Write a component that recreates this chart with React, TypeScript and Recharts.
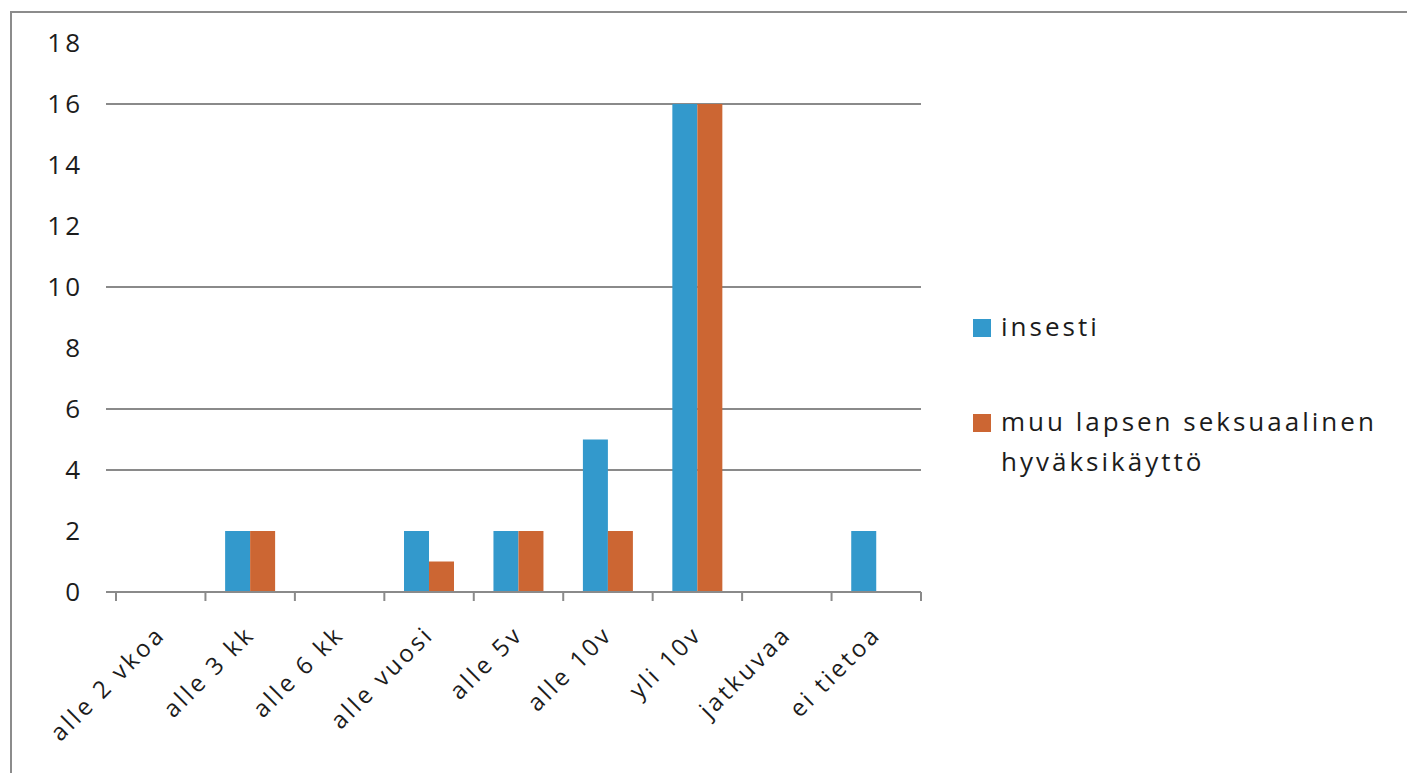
import { BarChart, Bar, XAxis, YAxis, CartesianGrid, Legend } from "recharts";

const categories = [
  "alle 2 vkoa",
  "alle 3 kk",
  "alle 6 kk",
  "alle vuosi",
  "alle 5v",
  "alle 10v",
  "yli 10v",
  "jatkuvaa",
  "ei tietoa",
];
const insesti = [0, 2, 0, 2, 2, 5, 16, 0, 2];
const muuHyvaksikaytto = [0, 2, 0, 1, 2, 2, 16, 0, 0];
const yTicks = [0, 2, 4, 6, 8, 10, 12, 14, 16, 18];
const gridValues = [4, 6, 10, 16];

const SERIES = [
  { key: "insesti", label: "insesti", color: "#3399cc" },
  { key: "muu", label: "muu lapsen seksuaalinen hyväksikäyttö", color: "#cc6633" },
];

const FONT = "'Open Sans', sans-serif";
const TEXT = "#1c1c1c";
const LINE = "#8a8a8a";

const data = categories.map((name, i) => ({
  name,
  insesti: insesti[i],
  muu: muuHyvaksikaytto[i],
}));

function YTick(props: any) {
  const { x, y, payload } = props;
  const showLine = payload.value === 0 || gridValues.includes(payload.value);
  return (
    <g>
      {showLine && <line x1={x - 10} x2={x} y1={y} y2={y} stroke={LINE} strokeWidth={2} />}
      <text
        x={x - 33}
        y={y}
        dy="0.36em"
        textAnchor="end"
        fill={TEXT}
        fontSize={26}
        letterSpacing={3}
        fontFamily={FONT}
      >
        {payload.value}
      </text>
    </g>
  );
}

// category label, plus tick marks at the category boundaries
function XTick(props: any) {
  const { x, y, payload, index, width, visibleTicksCount } = props;
  const band = width / visibleTicksCount;
  const isLast = index === visibleTicksCount - 1;
  return (
    <g>
      <line x1={x - band / 2} x2={x - band / 2} y1={y} y2={y + 9} stroke={LINE} strokeWidth={2} />
      {isLast && (
        <line x1={x + band / 2} x2={x + band / 2} y1={y} y2={y + 9} stroke={LINE} strokeWidth={2} />
      )}
      <g transform={`translate(${x + 6},${y + 44})`}>
        <text
          textAnchor="end"
          transform="rotate(-45)"
          fill={TEXT}
          fontSize={24}
          letterSpacing={3}
          fontFamily={FONT}
        >
          {payload.value}
        </text>
      </g>
    </g>
  );
}

function LegendBox() {
  return (
    <div style={{ fontFamily: FONT, color: TEXT, fontSize: 26, letterSpacing: 3 }}>
      {SERIES.map((s, i) => (
        <div
          key={s.key}
          style={{ display: "flex", alignItems: "flex-start", marginBottom: i === 0 ? 55 : 0 }}
        >
          <span
            style={{
              display: "inline-block",
              width: 18,
              height: 18,
              background: s.color,
              marginTop: 13,
              marginRight: 10,
              flexShrink: 0,
            }}
          />
          <span style={{ lineHeight: "40px", width: 410 }}>{s.label}</span>
        </div>
      ))}
    </div>
  );
}

export default function App() {
  return (
    <div
      style={{
        position: "absolute",
        left: 0,
        top: 0,
        width: 1407,
        height: 773,
        background: "#fff",
        overflow: "hidden",
      }}
    >
      {/* chart frame, right and bottom edges fall outside the picture */}
      <div
        style={{
          position: "absolute",
          left: 10,
          top: 11,
          width: 1420,
          height: 800,
          borderLeft: "2px solid #8c8c8c",
          borderTop: "2px solid #8c8c8c",
        }}
      />
      <BarChart
        width={1407}
        height={773}
        data={data}
        margin={{ top: 43, right: 486, bottom: 180, left: 0 }}
        barCategoryGap="22%"
        barGap={0}
        style={{ position: "absolute", left: 0, top: 0 }}
      >
        <CartesianGrid
          vertical={false}
          horizontalValues={gridValues}
          stroke={LINE}
          strokeWidth={2}
        />
        <XAxis
          dataKey="name"
          height={1}
          interval={0}
          tickLine={false}
          tickSize={0}
          tickMargin={0}
          axisLine={{ stroke: LINE, strokeWidth: 2 }}
          tick={<XTick />}
        />
        <YAxis
          width={116}
          domain={[0, 18]}
          ticks={yTicks}
          interval={0}
          axisLine={false}
          tickLine={false}
          tickSize={0}
          tickMargin={0}
          tick={<YTick />}
        />
        <Legend
          layout="horizontal"
          verticalAlign="middle"
          align="center"
          content={<LegendBox />}
          wrapperStyle={{ left: 973, top: 306, width: 434 }}
        />
        {SERIES.map((s) => (
          <Bar
            key={s.key}
            dataKey={s.key}
            name={s.label}
            fill={s.color}
            isAnimationActive={false}
          />
        ))}
      </BarChart>
    </div>
  );
}
